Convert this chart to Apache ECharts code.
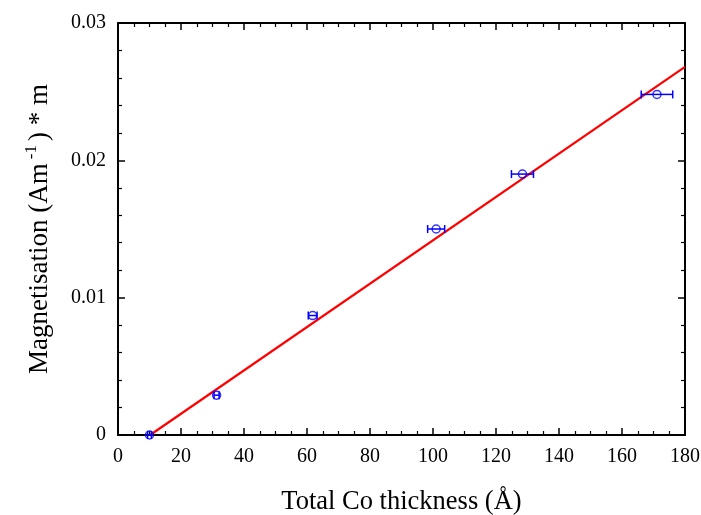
<!DOCTYPE html>
<html>
<head>
<meta charset="utf-8">
<script src="https://cdn.jsdelivr.net/npm/echarts@6/dist/echarts.min.js"></script>
<style>html,body{margin:0;padding:0;background:#fff}#c{width:701px;height:515px}</style>
</head>
<body>
<div id="c"></div>
<script>
const thickness = [10, 31.3, 61.8, 101, 128.4, 171.1];
const magnetisation = [0.0000, 0.0029, 0.0087, 0.0150, 0.0190, 0.0248];
const xError = [0.6, 0.8, 1.4, 2.7, 3.5, 5.0];
const fitLine = [[10.2, 0], [180, 0.0268]];
const xTicks = [0, 20, 40, 60, 80, 100, 120, 140, 160, 180];
const yTicks = [0, 0.01, 0.02, 0.03];

const font = 'Liberation Serif';
const chart = echarts.init(document.getElementById('c'));
const axisCommon = {
  axisLine: {show: true, onZero: false, lineStyle: {color: '#000', width: 2}},
  axisTick: {show: true, inside: true, length: 7, lineStyle: {color: '#000', width: 1.5}},
  minorTick: {show: true, splitNumber: 4, length: 4, lineStyle: {color: '#000', width: 1.2}},
  splitLine: {show: false}
};
const errData = thickness.map((x, i) => [x - xError[i], x + xError[i], magnetisation[i]]);
chart.setOption({
  animation: false,
  grid: {left: 118, right: 16, top: 23, bottom: 80, containLabel: false, outerBoundsMode: 'none'},
  xAxis: [
    Object.assign({}, axisCommon, {
      type: 'value', min: 0, max: 180, interval: 20, position: 'bottom',
      name: 'Total Co thickness (Å)', nameLocation: 'middle', nameGap: 54,
      nameTextStyle: {fontFamily: font, fontSize: 26.5, color: '#000'},
      axisLabel: {fontFamily: font, fontSize: 20, color: '#000', margin: 12,
        formatter: v => xTicks.includes(v) ? String(v) : ''}
    }),
    Object.assign({}, axisCommon, {
      type: 'value', min: 0, max: 180, interval: 20, position: 'top',
      axisLabel: {show: false}
    })
  ],
  yAxis: [
    Object.assign({}, axisCommon, {
      type: 'value', min: 0, max: 0.03, interval: 0.01, position: 'left',
      minorTick: Object.assign({}, axisCommon.minorTick, {splitNumber: 5}),
      name: 'Magnetisation (Am{sup|-1}) * m', nameLocation: 'middle', nameGap: 62, nameRotate: 90,
      nameTextStyle: {fontFamily: font, fontSize: 27, color: '#000',
        rich: {sup: {fontFamily: font, fontSize: 17, color: '#000', padding: [0, 4, 16, 4]}}},
      axisLabel: {fontFamily: font, fontSize: 20, color: '#000', margin: 12,
        formatter: v => v === 0 ? '0' : v.toFixed(2)}
    }),
    Object.assign({}, axisCommon, {
      type: 'value', min: 0, max: 0.03, interval: 0.01, position: 'right',
      minorTick: Object.assign({}, axisCommon.minorTick, {splitNumber: 5}),
      axisLabel: {show: false}
    })
  ],
  series: [
    {
      type: 'line', data: fitLine, showSymbol: false, symbol: 'none',
      lineStyle: {color: '#ff0000', width: 2.2}, z: 3
    },
    {
      type: 'custom', z: 4,
      data: errData,
      renderItem: function (params, api) {
        const y = api.value(2);
        const p1 = api.coord([api.value(0), y]);
        const p2 = api.coord([api.value(1), y]);
        const h = 4;
        const st = {stroke: '#0000ff', lineWidth: 1.5};
        return {type: 'group', children: [
          {type: 'line', shape: {x1: p1[0], y1: p1[1], x2: p2[0], y2: p2[1]}, style: st},
          {type: 'line', shape: {x1: p1[0], y1: p1[1] - h, x2: p1[0], y2: p1[1] + h}, style: st},
          {type: 'line', shape: {x1: p2[0], y1: p2[1] - h, x2: p2[0], y2: p2[1] + h}, style: st}
        ]};
      }
    },
    {
      type: 'scatter', z: 5,
      data: thickness.map((x, i) => [x, magnetisation[i]]),
      symbol: 'circle', symbolSize: 8,
      itemStyle: {color: 'rgba(255,255,255,0)', borderColor: '#0000ff', borderWidth: 1.5}
    }
  ]
});
</script>
</body>
</html>
